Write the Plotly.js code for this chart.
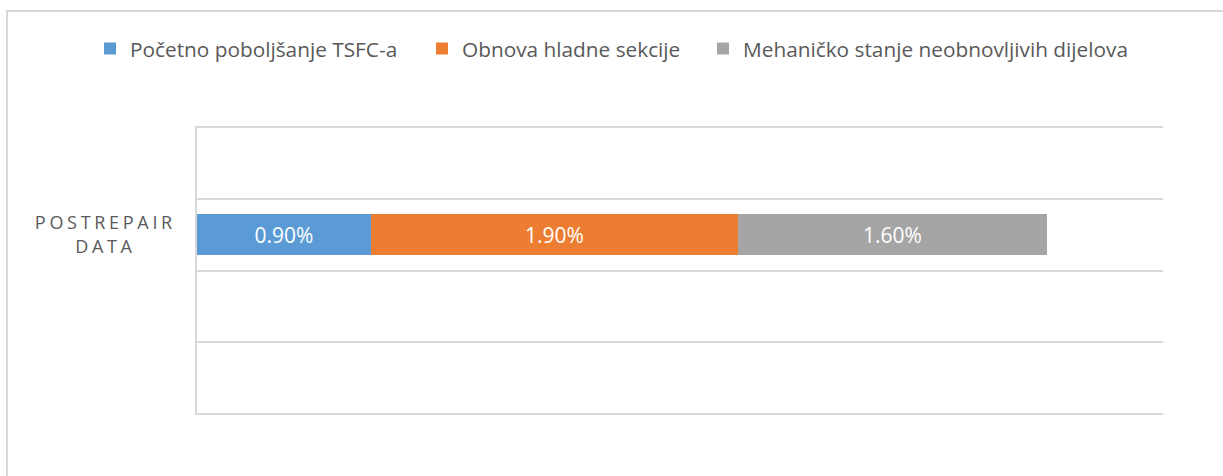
<!DOCTYPE html>
<html>
<head>
<meta charset="utf-8">
<script src="https://cdn.plot.ly/plotly-3.0.1.min.js"></script>
<style>
  html, body { margin: 0; padding: 0; background: #fff; }
  #chart { width: 1223px; height: 476px; }
  .ytick text { letter-spacing: 3.7px; text-anchor: middle !important; }
</style>
</head>
<body>
<div id="chart"></div>
<script>
// ---- data ----
var categories = ["POSTREPAIR<br>DATA"];
var seriesNames = ["Početno poboljšanje TSFC-a", "Obnova hladne sekcije", "Mehaničko stanje neobnovljivih dijelova"];
var seriesTSFC = [0.9];
var seriesCold = [1.9];
var seriesMech = [1.6];
var seriesColors = ["#5B9BD5", "#ED7D31", "#A5A5A5"];

var positions = categories.map(function (c, i) { return i; });
var allSeries = [seriesTSFC, seriesCold, seriesMech];
var legendIds = ["legend", "legend2", "legend3"];
var legendTextStart = [130, 462, 743];

var traces = allSeries.map(function (vals, k) {
  return {
    type: "bar",
    orientation: "h",
    name: seriesNames[k],
    legend: legendIds[k],
    x: vals,
    y: positions,
    width: 0.57,
    marker: { color: seriesColors[k], line: { width: 0 } },
    texttemplate: "%{x:.2f}%",
    textposition: "inside",
    insidetextanchor: "middle",
    textfont: { color: "#ffffff", size: 21, family: "Open Sans" },
    hoverinfo: "skip"
  };
});

function legendBox(textStart) {
  return {
    orientation: "h",
    xref: "container", yref: "container",
    x: (textStart - 40) / 1223, xanchor: "left",
    y: 1 - 49 / 476, yanchor: "middle",
    font: { size: 20.8, color: "#595959", family: "Open Sans" },
    bgcolor: "rgba(0,0,0,0)",
    borderwidth: 0,
    itemclick: false
  };
}

var layout = {
  width: 1223,
  height: 476,
  barmode: "stack",
  paper_bgcolor: "#ffffff",
  plot_bgcolor: "#ffffff",
  font: { family: "Open Sans", color: "#595959" },
  margin: { l: 197, r: 60, t: 126, b: 61, pad: 0 },
  showlegend: true,
  legend: legendBox(legendTextStart[0]),
  legend2: legendBox(legendTextStart[1]),
  legend3: legendBox(legendTextStart[2]),
  xaxis: {
    range: [0, 5],
    showgrid: false, zeroline: false, showticklabels: false, showline: false, ticks: ""
  },
  yaxis: {
    range: [-2.52, 1.52],
    tickmode: "array",
    tickvals: positions,
    ticktext: categories,
    showgrid: false,
    zeroline: false,
    showline: true,
    linecolor: "#d9d9d9",
    linewidth: 2,
    ticks: "",
    ticklabelstandoff: 86,
    tickfont: { size: 18, color: "#595959", family: "Open Sans" },
    minor: {
      tickmode: "linear", tick0: 0.5, dtick: 1,
      showgrid: true, gridcolor: "#d9d9d9", gridwidth: 2, ticks: ""
    }
  },
  shapes: [{
    type: "rect", xref: "paper", yref: "paper",
    x0: (7 - 197) / 966, x1: (1240 - 197) / 966,
    y0: -(61 + 20) / 289, y1: 1 + (126 - 11) / 289,
    line: { color: "#d9d9d9", width: 2 },
    fillcolor: "rgba(0,0,0,0)",
    layer: "below"
  }]
};

Plotly.newPlot("chart", traces, layout, { staticPlot: true, displayModeBar: false });
</script>
</body>
</html>
